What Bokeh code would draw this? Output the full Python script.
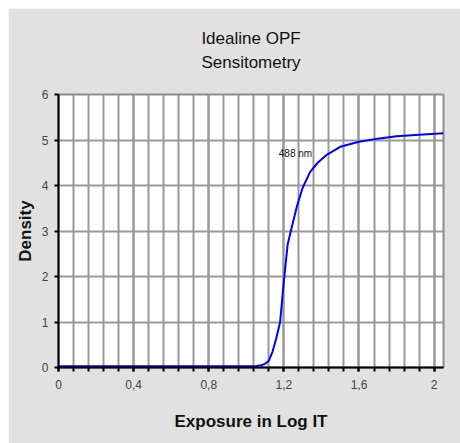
from bokeh.plotting import figure
from bokeh.models import Range1d, FixedTicker, Title, Label
from bokeh.embed import file_html
from bokeh.resources import INLINE

# Data
exposure = [0.0, 0.2, 0.4, 0.6, 0.8, 1.0, 1.05, 1.08, 1.10, 1.12, 1.14, 1.16, 1.18,
            1.20, 1.22, 1.24, 1.27, 1.30, 1.34, 1.38, 1.43, 1.50, 1.60, 1.70, 1.80,
            1.90, 2.05]
density = [0.03, 0.03, 0.03, 0.03, 0.03, 0.03, 0.03, 0.05, 0.08, 0.15, 0.35, 0.65, 1.0,
           1.9, 2.7, 3.05, 3.55, 3.95, 4.3, 4.5, 4.68, 4.85, 4.96, 5.03, 5.08,
           5.11, 5.15]

x_ticks = [0.0, 0.4, 0.8, 1.2, 1.6, 2.0]
x_tick_labels = ["0", "0,4", "0,8", "1,2", "1,6", "2"]
x_minor = [round(i * 0.08, 2) for i in range(0, 26)]
y_ticks = [0, 1, 2, 3, 4, 5, 6]

series_label = "488 nm"
title_lines = ["Idealine OPF", "Sensitometry"]

FONT = "'Liberation Sans Narrow', 'Arial Narrow', 'Liberation Sans', sans-serif"

p = figure(width=452, height=435, output_backend="svg", toolbar_location=None,
           x_range=Range1d(0, 2.05), y_range=Range1d(0, 6),
           min_border_left=50, min_border_right=17, min_border_top=86,
           min_border_bottom=76)
p.margin = (8, 0, 0, 8)

p.background_fill_color = "white"
p.border_fill_color = "#e1e1e1"
p.outline_line_color = "#8c8c8c"
p.outline_line_width = 2

# titles (first added sits nearest the plot); a blank spacer keeps them off the frame
spacer = Title(text=" ", text_font_size="17px", standoff=0)
t2 = Title(text=title_lines[1], align="center", text_font=FONT, text_font_size="17px",
           text_font_style="normal", text_color="#111111", standoff=3)
t1 = Title(text=title_lines[0], align="center", text_font=FONT, text_font_size="17px",
           text_font_style="normal", text_color="#111111", standoff=3)
p.add_layout(spacer, "above")
p.add_layout(t2, "above")
p.add_layout(t1, "above")

p.line(exposure, density, line_color="#0000ff", line_width=2)

p.add_layout(Label(x=1.173, y=4.7, text=series_label, text_font=FONT,
                   text_font_size="10px", text_color="#111111",
                   text_baseline="middle", text_align="left"))

xa = p.xaxis[0]
xa.ticker = FixedTicker(ticks=x_ticks, minor_ticks=x_minor)
xa.major_label_overrides = {t: l for t, l in zip(x_ticks, x_tick_labels)}
xa.axis_label = "Exposure in Log IT"
ya = p.yaxis[0]
ya.ticker = FixedTicker(ticks=y_ticks)
ya.axis_label = "Density"

for ax in (xa, ya):
    ax.axis_line_color = "black"
    ax.axis_line_width = 2
    ax.major_tick_line_color = "black"
    ax.major_tick_line_width = 2
    ax.major_tick_out = 4
    ax.major_tick_in = 0
    ax.minor_tick_line_color = "black"
    ax.minor_tick_line_width = 2
    ax.minor_tick_out = 4
    ax.minor_tick_in = 0
    ax.major_label_text_font = FONT
    ax.major_label_text_font_size = "12px"
    ax.major_label_text_color = "#444444"
    ax.axis_label_text_font = FONT
    ax.axis_label_text_font_size = "17px"
    ax.axis_label_text_font_style = "bold"
    ax.axis_label_text_color = "#111111"
ya.minor_tick_line_color = None
xa.major_label_standoff = 8
xa.axis_label_standoff = 20
ya.major_label_standoff = 6
ya.axis_label_standoff = 4

p.xgrid.grid_line_color = "#999999"
p.xgrid.grid_line_width = 2
p.xgrid.minor_grid_line_color = "#999999"
p.xgrid.minor_grid_line_width = 2
p.ygrid.grid_line_color = "#999999"
p.ygrid.grid_line_width = 2

open("out.html", "w").write(file_html(p, INLINE))
